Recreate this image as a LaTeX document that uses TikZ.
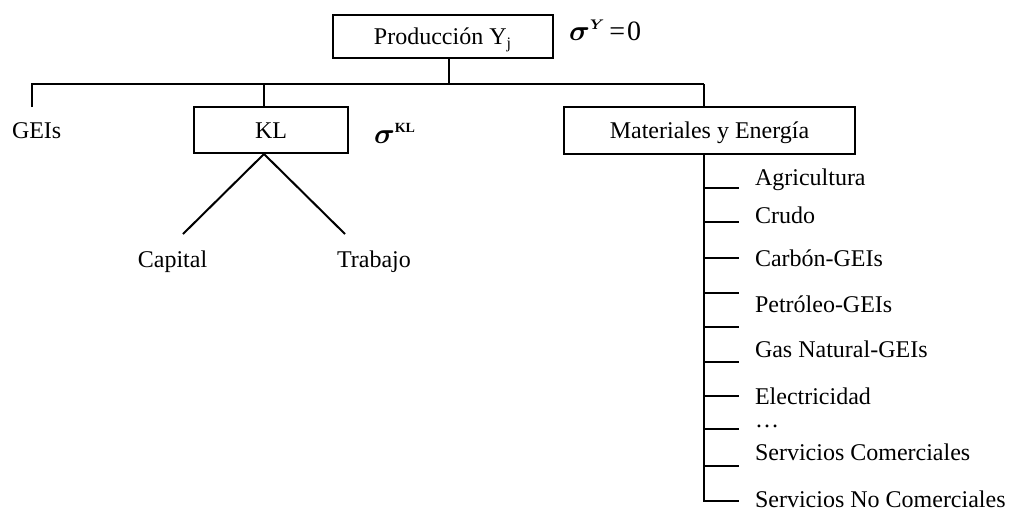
\documentclass[tikz,border=0pt]{standalone}
\usepackage{fontspec}
\setmainfont{Liberation Serif}
\usepackage{amsmath,bm}

\begin{document}
\begin{tikzpicture}[x=0.5pt, y=-0.5pt, line width=1pt,
    font=\fontsize{12}{14}\selectfont,
    caja/.style={draw, line width=1pt, inner sep=0pt, text height=10pt, text depth=2pt},
    hoja/.style={inner sep=0pt, anchor=base west},
    sigma/.style={inner sep=0pt, anchor=base west, font=\fontsize{14}{16}\selectfont}]
    \useasboundingbox (0,0) rectangle (1011,510);

    % Produccion, top nest
    \node[caja, minimum width=110pt, minimum height=21.5pt] (prod) at (443,36.5) {Producción Y\textsubscript{j}};
    \node[sigma] (sigY) at (568,40) {$\bm{\sigma}^{\scriptscriptstyle\bm{Y}}$\hspace{2pt}=\hspace{1pt}0};

    % Bar under Produccion
    \coordinate (ejeY) at (449,84);
    \coordinate (izq) at (32,84);
    \coordinate (ejeKL) at (264,84);
    \coordinate (der) at (704,84);
    \coordinate (geiT) at (32,107);
    \draw (prod.south -| ejeY) -- (ejeY);
    \draw (geiT) |- (der);

    % GEIs
    \node[hoja] (gei) at (11,138) {GEIs};

    % KL nest
    \node[caja, minimum width=77pt, minimum height=23pt] (kl) at (271,130) {KL};
    \node[sigma] (sigKL) at (373,143) {$\bm{\sigma}^{\scriptscriptstyle\mathbf{KL}}$};
    \draw (ejeKL) -- (kl.north -| ejeKL);
    \node[inner sep=0pt, anchor=base] (cap) at (172.5,267) {Capital};
    \node[inner sep=0pt, anchor=base] (trab) at (374,267) {Trabajo};
    \coordinate (capT) at (183,234);
    \coordinate (trabT) at (345,234);
    \draw (capT) -- (kl.south -| ejeKL) -- (trabT);

    % Materiales y Energia nest
    \node[caja, minimum width=145.5pt, minimum height=23.5pt] (mat) at (709.5,130.5) {Materiales y Energía};
    \draw (der) -- (mat.north -| der);
    \coordinate (fin) at (704,501);
    \coordinate (finT) at (739,501);
    \draw (mat.south -| der) -- (fin) -- (finT);
    \foreach \y in {188,222,258,293,327,362,396,429,466}
        \draw (704,\y) -- (739,\y);

    % Sectors
    \node[hoja] (agr) at (754,185) {Agricultura};
    \node[hoja] (cru) at (754,223) {Crudo};
    \node[hoja] (car) at (754,266) {Carbón-GEIs};
    \node[hoja] (pet) at (754,312) {Petróleo-GEIs};
    \node[hoja] (gas) at (754,357) {Gas Natural-GEIs};
    \node[hoja] (ele) at (754,404) {Electricidad};
    \node[hoja] (pts) at (754,427) {\dots};
    \node[hoja] (sco) at (754,460) {Servicios Comerciales};
    \node[hoja] (snc) at (754,507) {Servicios No Comerciales};
\end{tikzpicture}
\end{document}
